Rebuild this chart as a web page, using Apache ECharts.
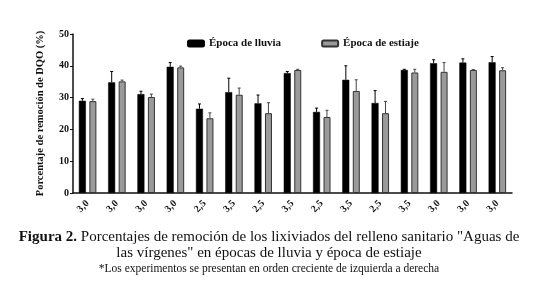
<!DOCTYPE html>
<html>
<head>
<meta charset="utf-8">
<script src="https://cdn.jsdelivr.net/npm/echarts@6/dist/echarts.min.js"></script>
<style>
  html, body { margin: 0; padding: 0; background: #fff; }
  #chart { width: 538px; height: 284px; }
</style>
</head>
<body>
<div id="chart"></div>
<script>
  // datos
  const categories = ['3,0', '3,0', '3,0', '3,0', '2,5', '3,5', '2,5', '3,5', '2,5', '3,5', '2,5', '3,5', '3,0', '3,0', '3,0']
  const lluvia = [29.0, 34.8, 31.1, 39.7, 26.5, 31.7, 28.2, 37.7, 25.5, 35.6, 28.3, 38.7, 40.8, 41.0, 41.1]
  const lluviaErr = [29.7, 38.2, 32.0, 41.0, 28.0, 36.1, 30.8, 38.2, 26.7, 40.0, 32.2, 38.9, 41.9, 42.2, 42.9]
  const estiaje = [28.9, 35.1, 30.2, 39.5, 23.5, 30.9, 25.1, 38.7, 23.9, 32.1, 25.1, 37.9, 38.1, 38.7, 38.6]
  const estiajeErr = [29.5, 35.5, 31.1, 39.9, 25.2, 33.0, 28.4, 38.9, 26.0, 35.6, 28.8, 38.9, 41.0, 38.8, 39.4]
  const yTicks = [0, 10, 20, 30, 40, 50]

  const serif = '"Liberation Serif", "DejaVu Serif", serif'
  const BAR_W = 7
  const OFFSET = 5.2

  // barra de error (solo hacia arriba)
  function errorBar(values, tops, dx, color) {
    return {
      type: 'custom',
      z: 5,
      data: values.map((v, i) => [i, v, tops[i]]),
      renderItem: function (params, api) {
        const base = api.coord([api.value(0), api.value(1)])
        const top = api.coord([api.value(0), api.value(2)])
        const x = base[0] + dx
        return {
          type: 'group',
          children: [
            { type: 'line', shape: { x1: x, y1: base[1], x2: x, y2: top[1] }, style: { stroke: color, lineWidth: 1 } },
            { type: 'line', shape: { x1: x - 1.5, y1: top[1], x2: x + 1.5, y2: top[1] }, style: { stroke: color, lineWidth: 1 } }
          ]
        }
      }
    }
  }

  const myChart = echarts.init(document.getElementById('chart'))
  const option = {
    animation: false,
    backgroundColor: '#fff',
    textStyle: { fontFamily: serif },
    grid: { left: 73, right: 26, top: 34, bottom: 91 },
    legend: {
      left: 182,
      top: 33,
      itemWidth: 16,
      itemHeight: 6,
      itemGap: 40,
      textStyle: { fontFamily: serif, fontWeight: 'bold', fontSize: 11, color: '#111' },
      data: ['Época de lluvia', 'Época de estiaje']
    },
    xAxis: {
      type: 'category',
      data: categories,
      axisLine: { lineStyle: { color: '#111', width: 1.5 } },
      axisTick: { alignWithLabel: true, length: 3, lineStyle: { color: '#111' } },
      axisLabel: { rotate: 45, fontFamily: serif, fontWeight: 'bold', fontSize: 10, color: '#111', margin: 9 }
    },
    yAxis: {
      type: 'value',
      min: 0,
      max: 50,
      interval: 10,
      name: 'Porcentaje de remoción de DQO (%)',
      nameLocation: 'middle',
      nameRotate: 90,
      nameGap: 27,
      nameTextStyle: { fontFamily: serif, fontWeight: 'bold', fontSize: 10.5, color: '#111' },
      axisLine: { show: true, lineStyle: { color: '#111', width: 1.5 } },
      axisTick: { show: true, length: 3, lineStyle: { color: '#111' } },
      axisLabel: {
        fontFamily: serif, fontWeight: 'bold', fontSize: 10, color: '#111', margin: 4,
        formatter: v => yTicks.indexOf(v) >= 0 ? String(v) : ''
      },
      splitLine: { show: false }
    },
    graphic: [
      {
        type: 'text', left: 'center', top: 230,
        style: {
          text: '{b|Figura 2.} Porcentajes de remoción de los lixiviados del relleno sanitario "Aguas de',
          fontFamily: serif, fontSize: 15, fill: '#111',
          rich: { b: { fontWeight: 'bold', fontFamily: serif, fontSize: 15 } }
        }
      },
      {
        type: 'text', left: 'center', top: 246,
        style: { text: 'las vírgenes" en épocas de lluvia y época de estiaje', fontFamily: serif, fontSize: 15, fill: '#111' }
      },
      {
        type: 'text', left: 'center', top: 263,
        style: { text: '*Los experimentos se presentan en orden creciente de izquierda a derecha', fontFamily: serif, fontSize: 11.5, fill: '#111' }
      }
    ],
    series: [
      {
        name: 'Época de lluvia',
        type: 'bar',
        barWidth: BAR_W,
        barGap: '50%',
        itemStyle: { color: '#000', borderColor: '#000', borderWidth: 0.5 },
        data: lluvia
      },
      {
        name: 'Época de estiaje',
        type: 'bar',
        barWidth: BAR_W,
        barGap: '50%',
        itemStyle: { color: '#9a9a9a', borderColor: '#333', borderWidth: 1 },
        data: estiaje
      },
      errorBar(lluvia, lluviaErr, -OFFSET, '#000'),
      errorBar(estiaje, estiajeErr, OFFSET, '#444')
    ]
  }
  myChart.setOption(option)
</script>
</body>
</html>
